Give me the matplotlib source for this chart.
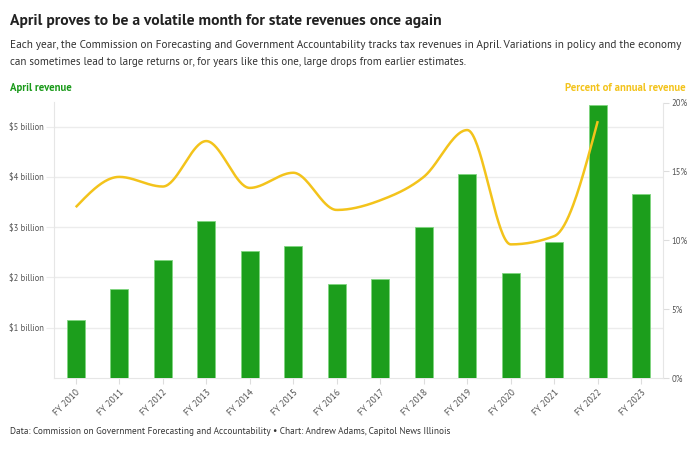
import numpy as np
import matplotlib
matplotlib.use("Agg")
import matplotlib.pyplot as plt
from matplotlib import font_manager as fm

years = ["FY 2010", "FY 2011", "FY 2012", "FY 2013", "FY 2014", "FY 2015", "FY 2016",
         "FY 2017", "FY 2018", "FY 2019", "FY 2020", "FY 2021", "FY 2022", "FY 2023"]
april_revenue_billion = [1.16, 1.78, 2.34, 3.13, 2.52, 2.62, 1.86,
                         1.96, 3.00, 4.06, 2.09, 2.71, 5.42, 3.66]
percent_annual = [12.4, 14.6, 13.9, 17.2, 13.8, 14.9, 12.2,
                  12.9, 14.6, 18.0, 9.7, 10.3, 18.65]
left_ticks = [1, 2, 3, 4, 5]
left_labels = ["$1 billion", "$2 billion", "$3 billion", "$4 billion", "$5 billion"]
right_ticks = [0, 5, 10, 15, 20]
right_labels = ["0%", "5%", "10%", "15%", "20%"]

GREEN = "#1c9e1c"
GOLD = "#f3c31b"


def wnum(w):
    if isinstance(w, (int, float)):
        return w
    return {"light": 300, "normal": 400, "regular": 400, "book": 400, "medium": 500,
            "semibold": 600, "demibold": 600, "bold": 700, "heavy": 800, "black": 900}.get(str(w).lower(), 400)


def pick_pair(names):
    for nm in names:
        cands = [f for f in fm.fontManager.ttflist
                 if f.name == nm and f.style == "normal" and "[" not in f.fname]
        regs = [f for f in cands if wnum(f.weight) == 400]
        bolds = [f for f in cands if wnum(f.weight) == 700]
        if regs and bolds:
            return fm.FontProperties(fname=regs[0].fname), fm.FontProperties(fname=bolds[0].fname)
    return (fm.FontProperties(family="DejaVu Sans"),
            fm.FontProperties(family="DejaVu Sans", weight="bold"))


FP_REG, FP_BOLD = pick_pair(["Source Sans Pro", "Source Sans 3", "PT Sans", "Fira Sans", "Lato"])


def monotone_x(x, y, n=40):
    x = np.asarray(x, float)
    y = np.asarray(y, float)
    h = np.diff(x)
    s = np.diff(y) / h
    m = len(x)
    t = np.zeros(m)
    for i in range(1, m - 1):
        p = (s[i - 1] * h[i] + s[i] * h[i - 1]) / (h[i - 1] + h[i])
        t[i] = (np.sign(s[i - 1]) + np.sign(s[i])) * min(abs(s[i - 1]), abs(s[i]), 0.5 * abs(p))
    t[0] = (3 * s[0] - t[1]) / 2
    t[-1] = (3 * s[-1] - t[-2]) / 2
    xs, ys = [], []
    for i in range(m - 1):
        u = np.linspace(0, 1, n)
        h00 = 2 * u**3 - 3 * u**2 + 1
        h10 = u**3 - 2 * u**2 + u
        h01 = -2 * u**3 + 3 * u**2
        h11 = u**3 - u**2
        xs.append(x[i] + u * h[i])
        ys.append(h00 * y[i] + h10 * h[i] * t[i] + h01 * y[i + 1] + h11 * h[i] * t[i + 1])
    return np.concatenate(xs), np.concatenate(ys)


fig = plt.figure(figsize=(7.0, 4.49), dpi=100)
renderer = fig.canvas.get_renderer()


def fit_text(xpx, ypx, s, width_px, fp, ha="left", **kw):
    p = fp.copy()
    p.set_size(10)
    t = fig.text(xpx / 700, 1 - ypx / 449, s, fontproperties=p, va="center", ha=ha, **kw)
    w = t.get_window_extent(renderer).width
    p2 = fp.copy()
    p2.set_size(10 * width_px / w)
    t.set_fontproperties(p2)
    return t


def fit_size(s, width_px, fp):
    p = fp.copy()
    p.set_size(10)
    t = fig.text(0, 0, s, fontproperties=p)
    w = t.get_window_extent(renderer).width
    t.remove()
    return 10 * width_px / w


ax = fig.add_axes([54 / 700, 1 - 378 / 449, (663 - 54) / 700, (378 - 102.5) / 449])
ax2 = ax.twinx()

x = np.arange(len(years))
ax.bar(x, april_revenue_billion, width=0.42, color=GREEN, edgecolor="#7fd67f",
       linewidth=0.6, zorder=3)
ax.set_xlim(-0.5, len(years) - 0.5)
ax.set_ylim(0, 20 * 5.0 / 18.25)
ax.set_yticks(left_ticks)
ax.set_yticklabels(left_labels)
ax.yaxis.grid(True, color="#ececec", linewidth=1, zorder=0)
ax.set_axisbelow(True)
ax.set_xticks(x)
ax.set_xticklabels(years, rotation=45, ha="right", rotation_mode="anchor")

ax2.set_ylim(0, 20)
ax2.set_yticks(right_ticks)
ax2.set_yticklabels(right_labels)

lx, ly = monotone_x(x[:len(percent_annual)], percent_annual)
ax2.plot(lx, ly, color=GOLD, linewidth=1.8, zorder=4, solid_capstyle="butt")
ax.set_zorder(1)
ax2.set_zorder(2)
ax2.patch.set_visible(False)

for a in (ax, ax2):
    for sp in a.spines.values():
        sp.set_visible(False)

ax.spines["left"].set_visible(True)
ax.spines["left"].set_color("#e6e6e6")
ax.spines["bottom"].set_visible(True)
ax.spines["bottom"].set_color("#e6e6e6")
ax2.spines["right"].set_visible(True)
ax2.spines["right"].set_color("#e6e6e6")

ax.tick_params(axis="y", length=6, color="#ececec", labelcolor="#555555", pad=1.5)
ax.tick_params(axis="x", length=4, color="#dddddd", labelcolor="#555555", pad=3)
ax2.tick_params(axis="y", length=4, color="#dddddd", labelcolor="#555555", pad=2)
tick_fp = FP_REG.copy()
tick_fp.set_size(min(fit_size("$5 billion", 36, FP_REG), 9.5))
xt_fp = FP_REG.copy()
xt_fp.set_size(min(fit_size("FY 2010", 33, FP_REG), 9.0))
for lab in ax.get_yticklabels() + ax2.get_yticklabels():
    lab.set_fontproperties(tick_fp)
for lab in ax.get_xticklabels():
    lab.set_fontproperties(xt_fp)

fit_text(10, 21, "April proves to be a volatile month for state revenues once again", 433,
         FP_BOLD, color="#222222")
fit_text(10, 45,
         "Each year, the Commission on Forecasting and Government Accountability tracks tax revenues in April. Variations in policy and the economy",
         675, FP_REG, color="#333333")
fit_text(10, 62,
         "can sometimes lead to large returns or, for years like this one, large drops from earlier estimates.",
         455, FP_REG, color="#333333")
fit_text(10, 88, "April revenue", 62, FP_BOLD, color="#1a9a1a")
fit_text(686, 88, "Percent of annual revenue", 120, FP_BOLD, ha="right", color=GOLD)
fit_text(10, 432,
         "Data: Commission on Government Forecasting and Accountability \u2022 Chart: Andrew Adams, Capitol News Illinois",
         436, FP_REG, color="#333333")

fig.savefig("out.png", dpi=100, facecolor="white")
